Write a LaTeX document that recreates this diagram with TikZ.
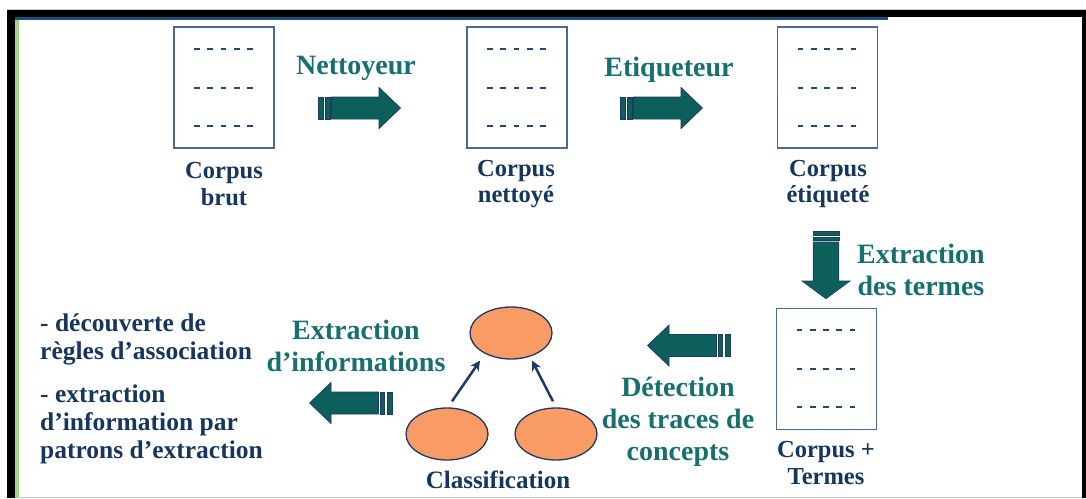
\documentclass[tikz,border=0pt]{standalone}
\usepackage{fontspec}
\setmainfont{Liberation Serif}
\usetikzlibrary{arrows.meta,shapes.geometric,calc}
\definecolor{tealtext}{HTML}{176F6F}
\definecolor{arrowfill}{HTML}{0D5F5C}
\definecolor{navy}{HTML}{1F3864}
\definecolor{navytext}{HTML}{17365D}
\definecolor{boxblue}{HTML}{4A6A96}
\definecolor{dashnavy}{HTML}{1F497D}
\definecolor{salmon}{HTML}{F89B64}
\definecolor{stripeblue}{HTML}{1F4E79}
\definecolor{stripegreen}{HTML}{A9D18E}
\definecolor{edgegray}{HTML}{C8C8C8}
\tikzset{
  docbox/.style={draw=boxblue, line width=1.3pt, minimum width=100pt, minimum height=121pt, inner sep=0pt},
  dashrow/.style={draw=dashnavy, line width=2pt, dash pattern=on 5.7pt off 7.6pt},
  teallabel/.style={text=tealtext, font=\bfseries\fontsize{28}{32}\selectfont, align=center, inner sep=0pt},
  navylabel/.style={text=navytext, font=\bfseries\fontsize{24.5}{26.5}\selectfont, align=center, inner sep=0pt},
  listlabel/.style={text=navytext, font=\bfseries\fontsize{25.5}{28}\selectfont, align=left, anchor=west, inner sep=0pt},
  blob/.style={ellipse, draw=navy, fill=salmon, line width=1.3pt, minimum width=82pt, minimum height=52pt, inner sep=0pt},
  conn/.style={draw=navy, line width=2.5pt, -{Stealth[length=10pt,width=10pt]}},
  arrowpart/.style={fill=arrowfill, draw=navy, line width=0.7pt},
  pics/blockarrow/.style={code={
    \path[arrowpart] (0,-11) rectangle (5,11);
    \path[arrowpart] (7.5,-11) rectangle (12,11);
    \path[arrowpart] (13.5,-11) -- (61,-11) -- (61,-20.5) -- (82.5,0) -- (61,20.5) -- (61,11) -- (13.5,11) -- cycle;
  }}
}
\begin{document}
\begin{tikzpicture}[x=1pt,y=-1pt]
\useasboundingbox (0,0) rectangle (1086,498);
\fill[white] (0,0) rectangle (1086,498);
% frame
\draw[edgegray, line width=0.8pt] (7,9) -- (1086,9);
\draw[edgegray, line width=1pt] (19,497) -- (1082,497);
\fill[black] (7,10) rectangle (1086,17);
\fill[black] (7,10) rectangle (15,498);
\fill[black] (1082,10) rectangle (1086,498);
\fill[stripeblue] (15,17) rectangle (888,20);
\fill[stripegreen] (15,20) rectangle (19,498);

% document boxes
\node[docbox] (b1) at (224,87.5) {};
\node[docbox] (b2) at (517,87.5) {};
\node[docbox] (b3) at (827.5,87.5) {};
\node[docbox] (b4) at (826.5,369) {};
\foreach \b in {b1,b2,b3,b4}{
  \foreach \dy in {-39,0,38}{
    \draw[dashrow] ($(\b.center)+(-30,\dy)$) -- ($(\b.center)+(30,\dy)$);
  }
}

% box labels
\node[navylabel] (l1) at (224,184) {Corpus\\brut};
\node[navylabel] (l2) at (516,184) {Corpus\\nettoyé};
\node[navylabel] (l3) at (828,184) {Corpus\\étiqueté};
\node[navylabel] (l4) at (826,463) {Corpus +\\Termes};

% block arrows
\pic at (318,108) {blockarrow};
\pic at (620,108) {blockarrow};
\pic[rotate=-90, xscale=0.82, yscale=1.17] at (826,231) {blockarrow};
\pic[rotate=180] at (730,345.5) {blockarrow};
\pic[rotate=180] at (392,403) {blockarrow};

% teal labels
\node[teallabel] (t1) at (356,68) {Nettoyeur};
\node[teallabel] (t2) at (669,70) {Etiqueteur};
\node[teallabel] (t3) at (921,270) {Extraction\\des termes};
\node[teallabel] (t4) at (678,422) {Détection\\des traces de\\concepts};
\node[teallabel] (t5) at (356,346) {Extraction\\d’informations};

% ellipses
\node[blob] (top) at (511,333) {};
\node[blob] (bl) at (447,434) {};
\node[blob] (br) at (556,434) {};
\draw[conn] ([xshift=5pt,yshift=6pt]bl.north) -- ([xshift=-31pt,yshift=-1pt]top.south);
\draw[conn] ([xshift=-3pt,yshift=6pt]br.north) -- ([xshift=21pt,yshift=-1pt]top.south);
\node[navylabel, font=\bfseries\fontsize{25}{28}\selectfont] (cls) at (498,480) {Classification};

% list text
\node[listlabel] (li1) at (40,339) {- découverte de\\règles d’association};
\node[listlabel] (li2) at (40,424) {- extraction\\d’information par\\patrons d’extraction};
\end{tikzpicture}
\end{document}
